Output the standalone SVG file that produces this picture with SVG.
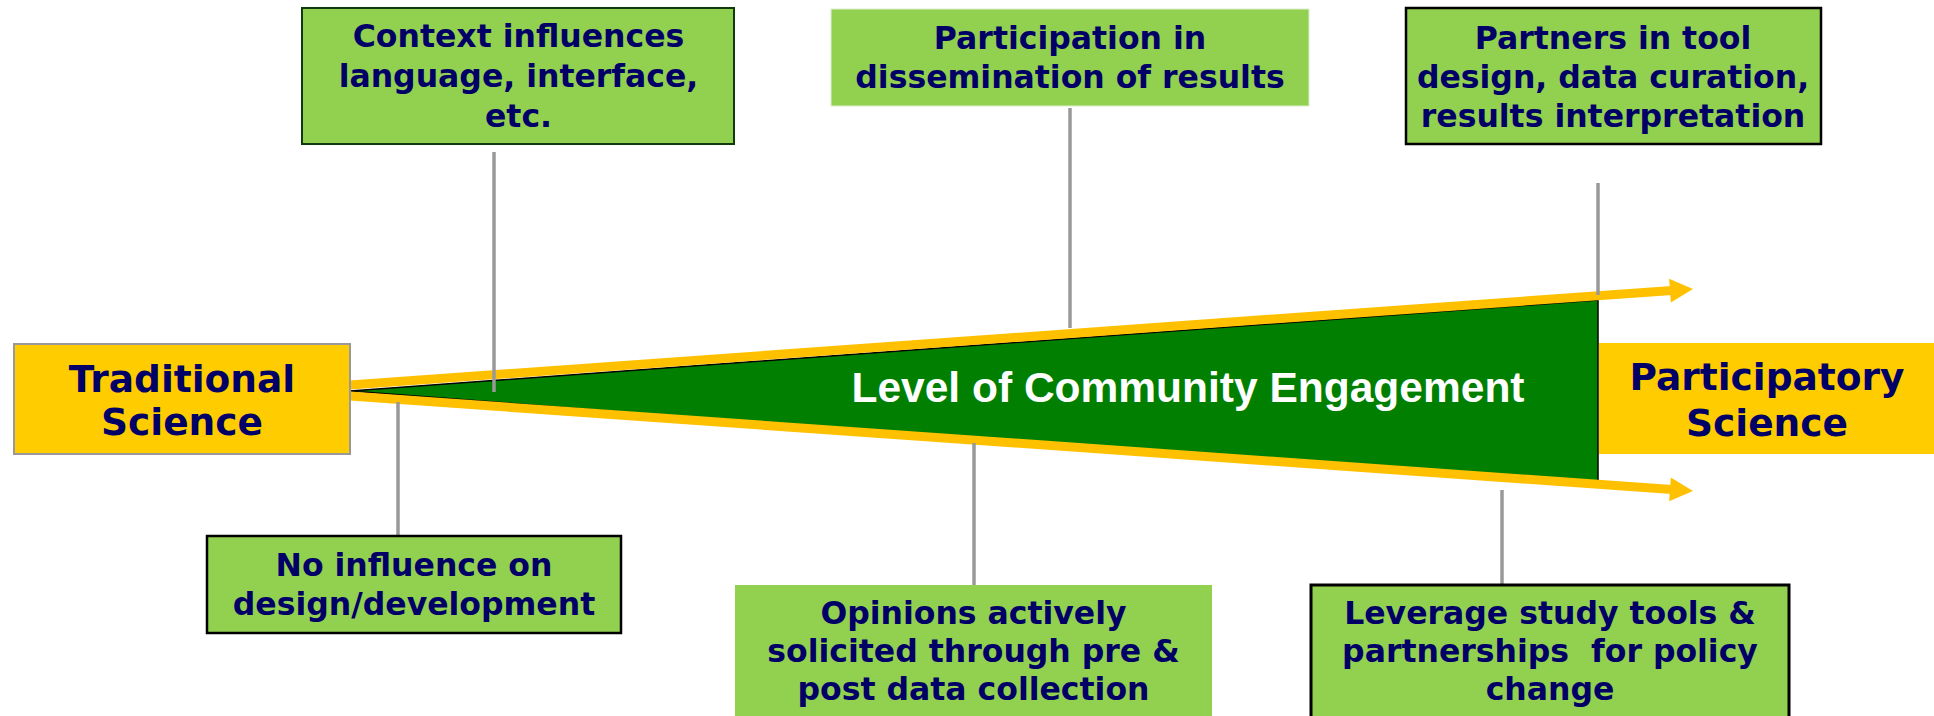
<svg xmlns="http://www.w3.org/2000/svg" width="1934" height="716" viewBox="0 0 1934 716">
  <style>
    .box { fill: #92D050; }
    .end { fill: #FFCC00; }
    .lbl { font-family: "DejaVu Sans", Verdana, sans-serif; font-weight: bold; font-size: 31.5px; fill: #000066; text-anchor: middle; white-space: pre; }
    .big { font-size: 37.5px; }
    .stem { stroke: #999999; stroke-width: 3.5; fill: none; }
    .band { stroke: #FFC000; stroke-width: 9; fill: none; }
  </style>
  <defs>
    <!-- arrowhead: back edge at x=0, tip at x=23 -->
    <marker id="head" markerUnits="userSpaceOnUse" markerWidth="26" markerHeight="26" viewBox="0 -13 26 26" refX="2" refY="0" orient="auto" overflow="visible">
      <path d="M0,-12 L23,0 L0,12 Z" fill="#FFC000"/>
    </marker>
  </defs>
  <rect width="1934" height="716" fill="#FFFFFF"/>

  <!-- engagement wedge -->
  <g id="wedge">
    <polygon points="350,391 1598,300 1598,487" fill="#007F00" stroke="#000000" stroke-width="1.5" stroke-linejoin="miter"/>
    <text x="1188" y="402" font-family="'Liberation Sans', Arial, sans-serif" font-weight="bold" font-size="42.5" fill="#FFFFFF" text-anchor="middle">Level of Community Engagement</text>
  </g>

  <!-- connectors -->
  <g id="connectors">
    <line class="band" x1="350" y1="385" x2="1672" y2="290.5" marker-end="url(#head)"/>
    <line class="band" x1="350" y1="396" x2="1672" y2="489.5" marker-end="url(#head)"/>
    <line class="stem" x1="494" y1="152" x2="494" y2="392"/>
    <line class="stem" x1="1070" y1="108" x2="1070" y2="328"/>
    <line class="stem" x1="1598" y1="183" x2="1598" y2="295"/>
    <line class="stem" x1="398" y1="402" x2="398" y2="535"/>
    <line class="stem" x1="974" y1="443" x2="974" y2="585"/>
    <line class="stem" x1="1502" y1="490" x2="1502" y2="584"/>
  </g>

  <g id="traditional">
    <rect class="end" x="14" y="344" width="336" height="110" stroke="#999999" stroke-width="2"/>
    <text class="lbl big" x="182" y="392">Traditional</text>
    <text class="lbl big" x="182" y="435">Science</text>
  </g>

  <g id="participatory">
    <rect class="end" x="1599" y="343" width="340" height="111"/>
    <text class="lbl big" x="1767" y="390">Participatory</text>
    <text class="lbl big" x="1767" y="436">Science</text>
  </g>

  <g id="context">
    <rect class="box" x="302" y="8" width="432" height="136" stroke="#0F3A0F" stroke-width="2"/>
    <text class="lbl" x="518.5" y="47">Context influences</text>
    <text class="lbl" x="518.5" y="87">language, interface,</text>
    <text class="lbl" x="518.5" y="127">etc.</text>
  </g>

  <g id="dissemination">
    <rect class="box" x="831" y="9" width="478" height="97" stroke="#DDEFD0" stroke-width="1"/>
    <text class="lbl" x="1070" y="49">Participation in</text>
    <text class="lbl" x="1070" y="88">dissemination of results</text>
  </g>

  <g id="partners">
    <rect class="box" x="1406" y="8" width="415" height="136" stroke="#000000" stroke-width="2.5"/>
    <text class="lbl" x="1613" y="49">Partners in tool</text>
    <text class="lbl" x="1613" y="88">design, data curation,</text>
    <text class="lbl" x="1613" y="127">results interpretation</text>
  </g>

  <g id="no-influence">
    <rect class="box" x="207" y="536" width="414" height="97" stroke="#000000" stroke-width="2.5"/>
    <text class="lbl" x="414" y="576">No influence on</text>
    <text class="lbl" x="414" y="615">design/development</text>
  </g>

  <g id="opinions">
    <rect class="box" x="735" y="585" width="477" height="140"/>
    <text class="lbl" x="973.5" y="624">Opinions actively</text>
    <text class="lbl" x="973.5" y="662">solicited through pre &amp;</text>
    <text class="lbl" x="973.5" y="700">post data collection</text>
  </g>

  <g id="leverage">
    <rect class="box" x="1311" y="585" width="478" height="140" stroke="#000000" stroke-width="3"/>
    <text class="lbl" x="1550" y="624">Leverage study tools &amp;</text>
    <text class="lbl" x="1550" y="662" xml:space="preserve">partnerships  for policy</text>
    <text class="lbl" x="1550" y="700">change</text>
  </g>
</svg>
